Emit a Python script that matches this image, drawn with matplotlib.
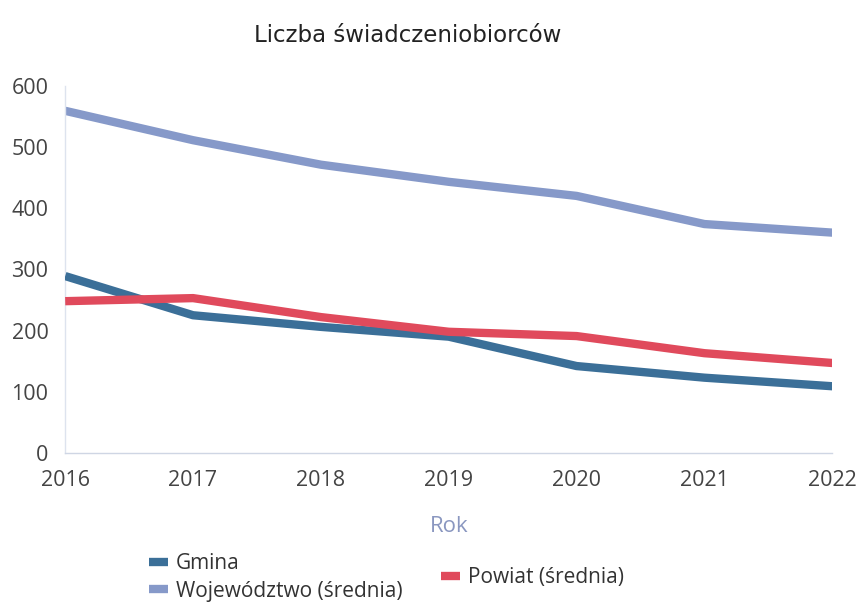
import matplotlib
matplotlib.use("Agg")
import matplotlib.pyplot as plt
from matplotlib.lines import Line2D

years = [2016, 2017, 2018, 2019, 2020, 2021, 2022]
gmina = [289, 225, 206, 190, 142, 123, 109]
wojewodztwo = [559, 511, 471, 443, 420, 374, 360]
powiat = [248, 253, 222, 198, 191, 163, 147]
y_ticks = [0, 100, 200, 300, 400, 500, 600]

title = "Liczba świadczeniobiorców"
x_label = "Rok"
names = ["Gmina", "Województwo (średnia)", "Powiat (średnia)"]
colors = ["#3b6f98", "#8699c9", "#e04a5c"]

plt.rcParams['font.family'] = ['Open Sans', 'DejaVu Sans']

fig = plt.figure(figsize=(8.58, 6.08), dpi=100)
ax = fig.add_axes([0.076, 0.255, 0.894, 0.604])

lw = 6
ax.plot(years, gmina, color=colors[0], lw=lw, solid_joinstyle='round', solid_capstyle='butt', zorder=3)
ax.plot(years, wojewodztwo, color=colors[1], lw=lw, solid_joinstyle='round', solid_capstyle='butt', zorder=2)
ax.plot(years, powiat, color=colors[2], lw=lw, solid_joinstyle='round', solid_capstyle='butt', zorder=4)

ax.set_xlim(2016, 2022)
ax.set_ylim(0, 600)
ax.set_yticks(y_ticks)
ax.set_xticks(years)
ax.set_xticklabels([str(y) for y in years])
ax.tick_params(axis='both', length=0, labelsize=15.5, labelcolor='#444444')
ax.tick_params(axis='y', pad=12)
ax.tick_params(axis='x', pad=12)

for s in ['top', 'right']:
    ax.spines[s].set_visible(False)
ax.spines['left'].set_color('#dde3ee')
ax.spines['bottom'].set_color('#cfd6e4')
ax.spines['left'].set_linewidth(1.0)
ax.spines['bottom'].set_linewidth(1.0)

ax.set_xlabel(x_label, fontsize=16, color='#8a97c0', labelpad=18)
fig.text(0.475, 0.942, title, ha='center', va='center', fontsize=16.5, color='#222222',
         family=['DejaVu Sans'])

h1 = Line2D([], [], color=colors[0], lw=6, solid_capstyle='butt')
h2 = Line2D([], [], color=colors[1], lw=6, solid_capstyle='butt')
h3 = Line2D([], [], color=colors[2], lw=6, solid_capstyle='butt')
fig.legend([h1, h2], names[:2], loc='center left', bbox_to_anchor=(0.152, 0.05),
           frameon=False, fontsize=15, handlelength=0.9, handletextpad=0.4,
           labelspacing=0.3, labelcolor='#333333')
fig.legend([h3], names[2:], loc='center left', bbox_to_anchor=(0.492, 0.05),
           frameon=False, fontsize=15, handlelength=0.9, handletextpad=0.4,
           labelcolor='#333333')

fig.savefig("out.png", dpi=100)
